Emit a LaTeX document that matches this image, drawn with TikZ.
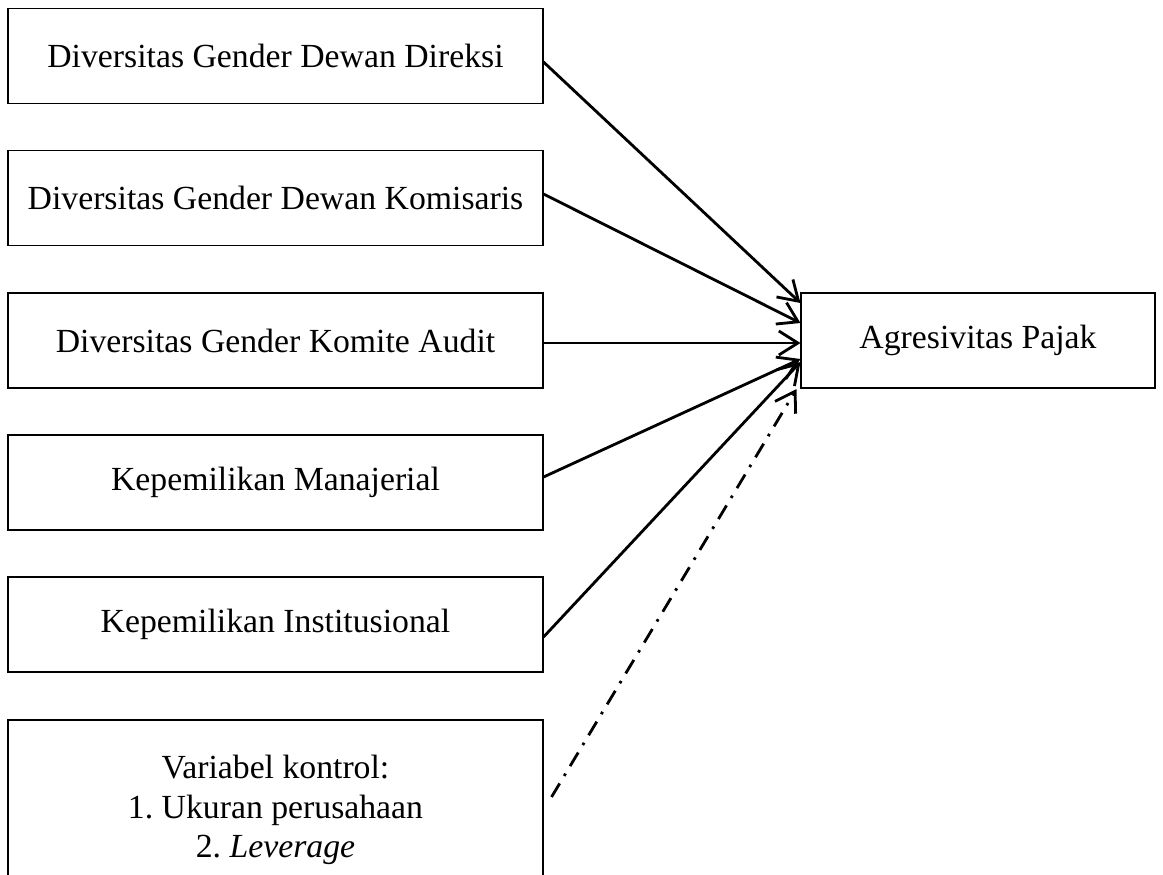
\documentclass[tikz,border=0pt]{standalone}
\usepackage{fontspec}
\setmainfont{Liberation Serif}
\usetikzlibrary{arrows.meta}
\frenchspacing

\tikzset{
  varbox/.style={draw, line width=0.6pt, minimum width=10.7cm, minimum height=1.9cm,
    align=center, font=\fontsize{19.2}{22.5}\selectfont},
  depbox/.style={varbox, minimum width=7.08cm},
  arr/.style={line width=1.6pt, -{Straight Barb[length=3.8mm, width=4.8mm, line width=1.6pt]}},
  ctrlarr/.style={arr, dash pattern=on 9pt off 5pt on 1.5pt off 5pt}
}

\begin{document}
\begin{tikzpicture}
  \useasboundingbox (0,0) rectangle (23.26,-17.48);

  % Independent variables
  \node[varbox] (dgdd) at (5.51,-1.12) {Diversitas Gender Dewan Direksi};
  \node[varbox] (dgdk) at (5.51,-3.96) {Diversitas Gender Dewan Komisaris};
  \node[varbox] (dgka) at (5.51,-6.81) {Diversitas Gender Komite Audit};
  \node[varbox] (kman) at (5.51,-9.65) {Kepemilikan Manajerial};
  \node[varbox] (kins) at (5.51,-12.49) {Kepemilikan Institusional};

  % Control variables
  \node[varbox, minimum height=3.6cm] (kontrol) at (5.51,-16.2)
    {Variabel kontrol:\\1. Ukuran perusahaan\\2. \textit{Leverage}};

  % Dependent variable
  \node[depbox] (agp) at (19.56,-6.81) {Agresivitas Pajak};

  % Arrows to the dependent variable
  \foreach \src/\sy/\ty in {dgdd/-0.12/0.75, dgdk/0.08/0.35, dgka/-0.05/-0.05,
                            kman/0.11/-0.37, kins/-0.25/-0.43} {
    \draw[arr] ([yshift=\sy cm]\src.east) -- ([yshift=\ty cm]agp.west);
  }

  % Control arrow
  \coordinate (ctrlstart) at ([xshift=0.16cm, yshift=0.26cm]kontrol.east);
  \draw[ctrlarr] (ctrlstart) -- ([xshift=-0.08cm, yshift=-0.97cm]agp.west);
\end{tikzpicture}
\end{document}
